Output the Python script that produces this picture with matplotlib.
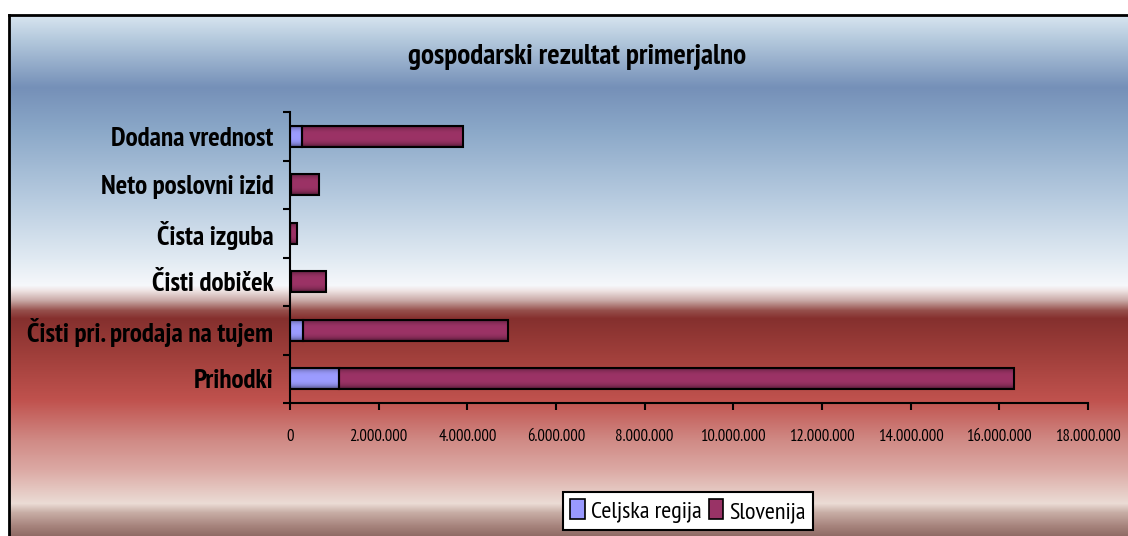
import numpy as np
import matplotlib
matplotlib.use("Agg")
import matplotlib.pyplot as plt
from matplotlib.colors import to_rgb
from matplotlib.patches import Patch

plt.rcParams['font.family'] = ['PT Sans Narrow', 'DejaVu Sans']

# Data (bottom to top, as drawn)
categories = ["Prihodki", "Čisti pri. prodaja na tujem", "Čisti dobiček",
              "Čista izguba", "Neto poslovni izid", "Dodana vrednost"]
celjska = [1100000, 300000, 30000, 10000, 20000, 280000]
slovenija = [15230000, 4620000, 790000, 140000, 635000, 3630000]
xticks = np.arange(0, 18000001, 2000000)
title = "gospodarski rezultat primerjalno"

W, H = 1128, 536
fig = plt.figure(figsize=(W / 100, H / 100), dpi=100)

# chart-area background gradient
bg = fig.add_axes([0, 0, 1, 1])
bg.axis("off")
stops = [
    (15, "#d8e5f0"), (40, "#b3c8dc"), (87, "#7590b8"), (130, "#8ba8c8"),
    (200, "#b8cce0"), (260, "#e2ebf3"), (285, "#f6f8fb"), (290, "#efe4e4"),
    (300, "#c9a9a6"), (310, "#96504c"), (318, "#85302e"), (355, "#a03f3b"),
    (400, "#c0524e"), (440, "#d08a85"), (470, "#dcaaa5"), (503, "#ebdcd5"),
    (512, "#c8aea6"), (525, "#a8857e"), (536, "#8e6a64"),
]
ys = np.arange(15, H)
sy = [s[0] for s in stops]
cols = np.array([to_rgb(s[1]) for s in stops])
grad = np.stack([np.interp(ys, sy, cols[:, k]) for k in range(3)], axis=1)
grad = np.repeat(grad[:, None, :], 2, axis=1)
bg.imshow(grad, extent=(9, W, H, 15), aspect="auto", interpolation="bilinear")
bg.plot([9, 9], [15, H], color="black", lw=2)
bg.plot([9, W], [15, 15], color="black", lw=2)
bg.set_xlim(0, W)
bg.set_ylim(H, 0)

# main plot
ax = fig.add_axes([290 / W, 1 - 403 / H, (1088 - 290) / W, (403 - 112) / H])
ax.patch.set_alpha(0)
y = np.arange(len(categories))
h = 0.44


def shaded(bars, color):
    c = np.array(to_rgb(color))
    t = np.linspace(-1, 1, 40)
    f = 1 - 0.5 * np.abs(t) ** 3
    arr = np.repeat((c[None, :] * f[:, None])[:, None, :], 2, axis=1)
    for b in bars:
        x0, y0 = b.get_x(), b.get_y()
        im = ax.imshow(arr, extent=(x0, x0 + b.get_width(), y0, y0 + b.get_height()),
                       aspect="auto", interpolation="bilinear", zorder=2)
        im.set_clip_path(b)


b1 = ax.barh(y, celjska, height=h, color="#9999ff", edgecolor="black", lw=1.5, zorder=3)
b2 = ax.barh(y, slovenija, left=celjska, height=h, color="#993366",
             edgecolor="black", lw=1.5, zorder=3)
shaded(b1, "#9c9cff")
shaded(b2, "#9c3366")
for b in list(b1) + list(b2):
    b.set_facecolor("none")

ax.set_xlim(0, 18000000)
ax.set_ylim(-0.5, len(categories) - 0.5)
for s in ["top", "right"]:
    ax.spines[s].set_visible(False)
for s in ["left", "bottom"]:
    ax.spines[s].set_linewidth(1.5)

ax.set_xticks(xticks)
ax.set_xticklabels([f"{v:,}".replace(",", ".") for v in xticks], fontsize=12)
ax.tick_params(axis="x", direction="out", length=5, width=1.5, pad=14)
ax.set_yticks(np.arange(-0.5, len(categories), 1))
ax.set_yticklabels([])
ax.tick_params(axis="y", which="major", direction="out", length=5, width=1.5)
ax.set_yticks(y, minor=True)
ax.set_yticklabels(categories, minor=True, fontsize=19.5, fontweight="bold")
ax.tick_params(axis="y", which="minor", length=0, pad=12)

fig.text(577 / W, 1 - 57 / H, title, ha="center", va="center",
         fontsize=21, fontweight="bold")

handles = [Patch(facecolor="#9999ff", edgecolor="black", lw=1.2, label="Celjska regija"),
           Patch(facecolor="#993366", edgecolor="black", lw=1.2, label="Slovenija")]
leg = fig.legend(handles=handles, loc="center", bbox_to_anchor=(688 / W, 1 - 511 / H),
                 ncol=2, fontsize=17.5, frameon=True, fancybox=False,
                 handlelength=0.6, handleheight=0.9, handletextpad=0.25,
                 columnspacing=0.3, borderpad=0.3, borderaxespad=0)
leg.get_frame().set_edgecolor("black")
leg.get_frame().set_linewidth(1.5)
leg.get_frame().set_facecolor("white")
leg.get_frame().set_alpha(1)

fig.savefig("out.png", dpi=100)
